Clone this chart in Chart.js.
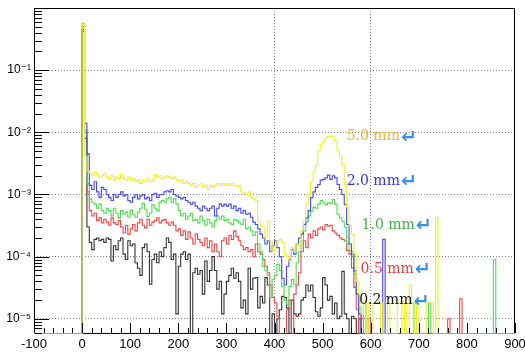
<!DOCTYPE html>
<html><head><meta charset="utf-8">
<script src="https://cdn.jsdelivr.net/npm/chart.js@4/dist/chart.umd.min.js"></script>
<style>html,body{margin:0;padding:0;background:#fff}canvas{display:block}</style>
</head><body>
<canvas id="c" width="525" height="354"></canvas>
<script>
// ---- data ----
const binStart = 0;      // first bin lower edge
const binWidth = 5;      // bin width
const xTickLabels = [-100, 0, 100, 200, 300, 400, 500, 600, 700, 800, 900];
const yTickValues = [1e-5, 1e-4, 1e-3, 1e-2, 1e-1];
const yTickLabels = ['10\u207B\u2075', '10\u207B\u2074', '10\u207B\u00B3', '10\u207B\u00B2', '10\u207B\u00B9'];
const seriesNames = ['5.0 mm', '2.0 mm', '1.0 mm', '0.5 mm', '0.2 mm'];

const yellow5mm = [
0.55, 4.0e-3, 2.4e-3, 2.2e-3, 2.0e-3, 2.3e-3, 2.1e-3, 1.9e-3, 2.0e-3, 2.2e-3,
1.9e-3, 1.8e-3, 2.0e-3, 1.7e-3, 1.9e-3, 1.8e-3, 2.1e-3, 1.8e-3, 1.7e-3, 1.9e-3,
1.7e-3, 1.8e-3, 1.6e-3, 1.7e-3, 1.5e-3, 1.7e-3, 1.6e-3, 1.8e-3, 1.6e-3, 1.7e-3,
2.1e-3, 1.9e-3, 2.0e-3, 1.8e-3, 1.9e-3, 2.0e-3, 1.9e-3, 1.8e-3, 1.9e-3, 1.7e-3,
1.6e-3, 1.7e-3, 1.5e-3, 1.6e-3, 1.5e-3, 1.4e-3, 1.5e-3, 1.3e-3, 1.4e-3, 1.5e-3,
1.3e-3, 1.4e-3, 1.2e-3, 1.4e-3, 1.3e-3, 1.4e-3, 1.5e-3, 1.4e-3, 1.5e-3, 1.4e-3,
1.5e-3, 1.4e-3, 1.5e-3, 1.4e-3, 1.35e-3, 1.4e-3, 1.1e-3, 1.05e-3, 1.0e-3, 1.1e-3,
9e-4, 8.5e-4, 8e-4, 3.7e-4, 3.2e-4, 3.0e-4, 2.0e-4, 3.7e-4, 1.8e-4, 1.2e-4,
1.5e-4, 1.8e-4, 1.9e-4, 1.7e-4, 1.1e-4, 1.0e-4, 8.5e-5, 1.4e-4, 1.2e-4, 1.6e-4,
1.5e-4, 2.6e-4, 3.7e-4, 7e-4, 1.0e-3, 1.6e-3, 2.3e-3, 2.9e-3, 5.0e-3, 6.3e-3,
7.0e-3, 8.1e-3, 8.6e-3, 8.7e-3, 8.4e-3, 7.2e-3, 5.0e-3, 4.2e-3, 3.0e-3, 1.45e-3,
6.2e-4, 3.2e-4, 2.3e-4, 1.1e-4, 4e-5, 2.5e-5, 1.2e-5, 1.8e-5, 0, 1.8e-5,
1.8e-5, 0, 0, 0, 1.8e-5, 0, 0, 1.8e-5, 0, 0,
0, 1.8e-5, 1.8e-5, 0, 1.8e-5, 0, 3.5e-5, 1.8e-5, 0, 1.8e-5,
0, 0, 0, 1.8e-5, 1.8e-5, 1.8e-5, 0, 4.2e-4, 0, 0,
0, 0, 0, 0, 0, 0, 0, 0, 0, 0,
0, 0, 0, 0, 0, 0, 0, 0, 0, 0,
0, 0, 0, 0, 0, 0, 0, 0, 0, 0
];
const blue2mm = [
0.42, 1.4e-2, 4.5e-3, 1.4e-3, 1.2e-3, 1.6e-3, 1.1e-3, 9e-4, 1.3e-3, 1.2e-3,
1.0e-3, 9e-4, 8e-4, 1.0e-3, 9e-4, 1.0e-3, 1.1e-3, 9.5e-4, 1.0e-3, 8e-4,
7.5e-4, 9e-4, 1.0e-3, 8.5e-4, 9.5e-4, 1.0e-3, 8.5e-4, 9e-4, 8e-4, 1.0e-3,
1.05e-3, 9e-4, 1.0e-3, 1.0e-3, 1.1e-3, 1.15e-3, 1.1e-3, 1.2e-3, 1.0e-3, 9.5e-4,
9e-4, 8.5e-4, 9e-4, 8e-4, 7.5e-4, 7e-4, 7.5e-4, 6.5e-4, 6e-4, 5.5e-4,
6.5e-4, 6e-4, 5.5e-4, 6e-4, 6.5e-4, 4.5e-4, 6e-4, 7e-4, 6.5e-4, 7e-4,
6.5e-4, 7e-4, 6e-4, 6.5e-4, 5.5e-4, 6e-4, 5e-4, 5.5e-4, 4.8e-4, 5e-4,
4.3e-4, 3.6e-4, 3.3e-4, 2.8e-4, 2.3e-4, 2.0e-4, 1.6e-4, 1.8e-4, 1.2e-4, 1.5e-4,
1.8e-4, 1.4e-4, 1.0e-4, 4.5e-5, 3.5e-5, 7e-5, 9e-5, 1.3e-4, 1.1e-4, 1.6e-4,
2.0e-4, 2.3e-4, 3.3e-4, 4.2e-4, 5.5e-4, 8.9e-4, 1.1e-3, 1.3e-3, 1.45e-3, 1.7e-3,
1.75e-3, 1.85e-3, 2.05e-3, 1.75e-3, 2.0e-3, 1.85e-3, 1.45e-3, 1.2e-3, 1.0e-3, 6.9e-4,
3.3e-4, 1.6e-4, 1.1e-4, 5.9e-5, 2.5e-5, 1.2e-5, 0, 0, 0, 0,
0, 0, 0, 0, 0, 1.9e-4, 0, 0, 0, 0,
0, 0, 0, 0, 0, 0, 0, 0, 0, 0,
0, 0, 0, 0, 0, 0, 0, 0, 0, 0,
0, 0, 0, 0, 0, 0, 0, 0, 0, 0,
0, 0, 0, 0, 0, 0, 0, 0, 0, 0,
0, 0, 0, 0, 0, 0, 0, 0, 0, 0
];
const green1mm = [
0.57, 1.1e-2, 1.5e-3, 8.5e-4, 7.5e-4, 7e-4, 6e-4, 7e-4, 5.5e-4, 5e-4,
6e-4, 5.5e-4, 4.5e-4, 6e-4, 5e-4, 4.2e-4, 5.5e-4, 4.8e-4, 5.2e-4, 4.3e-4,
5.6e-4, 4.8e-4, 4.3e-4, 5.2e-4, 6e-4, 7.2e-4, 5.8e-4, 4.4e-4, 5e-4, 6.8e-4,
6e-4, 5.5e-4, 7.5e-4, 8e-4, 7.5e-4, 8.5e-4, 9e-4, 7.5e-4, 8.5e-4, 7e-4,
5.5e-4, 4.5e-4, 5e-4, 4e-4, 4.5e-4, 5e-4, 3.8e-4, 4e-4, 3.5e-4, 4.5e-4,
3.8e-4, 3.2e-4, 4e-4, 3.5e-4, 3e-4, 3.8e-4, 4.5e-4, 4e-4, 4.5e-4, 3.8e-4,
4e-4, 3.5e-4, 3.3e-4, 4e-4, 3.8e-4, 3.5e-4, 3.3e-4, 4e-4, 2.8e-4, 3e-4,
2.6e-4, 2.2e-4, 2.5e-4, 1.6e-4, 1.2e-4, 7e-5, 6e-5, 5e-5, 2.2e-5, 4.3e-5,
5e-5, 7.5e-5, 6e-5, 3.3e-5, 2.0e-5, 1.7e-5, 3.3e-5, 4.3e-5, 3.5e-5, 8e-5,
1.2e-4, 1.8e-4, 2.6e-4, 3.7e-4, 4.5e-4, 5.4e-4, 6.2e-4, 6e-4, 7e-4, 8e-4,
7.5e-4, 6.8e-4, 7.5e-4, 7.2e-4, 8.3e-4, 7e-4, 4.8e-4, 4.2e-4, 3.7e-4, 3e-4,
1.6e-4, 1.26e-4, 1.2e-4, 5.2e-5, 2.5e-5, 1.5e-5, 0, 1.8e-5, 0, 0,
0, 0, 0, 0, 0, 0, 0, 0, 0, 0,
0, 0, 0, 0, 0, 0, 0, 0, 1.8e-5, 0,
0, 0, 0, 0, 1.8e-5, 0, 0, 0, 0, 0,
0, 0, 0, 0, 0, 0, 0, 0, 0, 0,
0, 0, 0, 0, 0, 0, 0, 0, 0, 0,
0, 8.9e-5, 0, 0, 0, 0, 0, 0, 0, 0
];
const red05mm = [
0.5, 1.0e-2, 1.1e-3, 5.5e-4, 4.5e-4, 5e-4, 3.8e-4, 4.2e-4, 3.5e-4, 4e-4,
3.6e-4, 3.2e-4, 4.2e-4, 3.5e-4, 3.3e-4, 3.8e-4, 3e-4, 2.4e-4, 3.2e-4, 2.3e-4,
2.8e-4, 3.3e-4, 2.6e-4, 3.5e-4, 4e-4, 3.2e-4, 2.9e-4, 4e-4, 3.2e-4, 3.6e-4,
3.8e-4, 4.2e-4, 3.5e-4, 3.8e-4, 4.0e-4, 3.5e-4, 3.2e-4, 3.6e-4, 3.2e-4, 2.6e-4,
2.8e-4, 2.2e-4, 2.6e-4, 1.9e-4, 2.5e-4, 2.0e-4, 1.6e-4, 2.3e-4, 1.9e-4, 1.7e-4,
1.5e-4, 2.0e-4, 1.4e-4, 1.8e-4, 1.2e-4, 1.6e-4, 1.2e-4, 1.0e-4, 1.8e-4, 2.0e-4,
1.6e-4, 2.2e-4, 1.9e-4, 2.6e-4, 2.1e-4, 1.8e-4, 1.5e-4, 1.3e-4, 1.4e-4, 1.2e-4,
1.3e-4, 1.0e-4, 1.6e-4, 1.2e-4, 1.1e-4, 9e-5, 7e-5, 5.5e-5, 3.5e-5, 2.2e-5,
1.8e-5, 1.1e-5, 0, 0, 0, 1.4e-5, 2e-5, 0, 2.5e-5, 3.5e-5,
5.5e-5, 1.2e-4, 1.8e-4, 1.4e-4, 2.3e-4, 2.0e-4, 2.6e-4, 2.2e-4, 2.8e-4, 3.0e-4,
2.7e-4, 3.3e-4, 3.1e-4, 3.2e-4, 2.6e-4, 2.4e-4, 2.2e-4, 2.0e-4, 1.9e-4, 1.8e-4,
1.26e-4, 1.1e-4, 6.6e-5, 3.2e-5, 1.4e-5, 0, 1.0e-5, 0, 0, 1.0e-5,
0, 0, 0, 0, 0, 0, 0, 0, 0, 0,
0, 0, 0, 0, 0, 0, 0, 0, 0, 0,
0, 0, 0, 0, 0, 0, 0, 0, 0, 0,
0, 0, 1.0e-5, 0, 0, 0, 0, 2.1e-5, 0, 0,
0, 0, 0, 0, 0, 0, 0, 0, 0, 0,
0, 0, 0, 0, 0, 0, 0, 0, 0, 0
];
const black02mm = [
0.45, 8e-3, 3e-4, 1.7e-4, 1.3e-4, 1.9e-4, 2.0e-4, 1.8e-4, 1.9e-4, 1.7e-4,
2.0e-4, 1.9e-4, 8.5e-5, 1.5e-4, 1.3e-4, 1.8e-4, 2.0e-4, 1.1e-4, 9e-5, 1.8e-4,
1.5e-4, 1.6e-4, 8e-5, 6.5e-5, 5e-5, 1.4e-4, 1.6e-4, 1.2e-4, 3.6e-5, 9e-5,
1.1e-4, 8e-5, 1.2e-4, 1.0e-4, 1.4e-4, 2.0e-4, 1.7e-4, 9e-5, 1.1e-4, 1.2e-5,
7e-5, 1.1e-4, 1.2e-4, 9e-5, 1.1e-4, 0, 5.5e-5, 6.5e-5, 5.2e-5, 6e-5,
2.5e-5, 8.5e-5, 4e-5, 6e-5, 1.0e-4, 6e-5, 3e-5, 4e-5, 1.2e-5, 2.5e-5,
4e-5, 5e-5, 6.5e-5, 4.5e-5, 5.5e-5, 4e-5, 1.5e-5, 2e-5, 1.2e-5, 6.5e-5,
3e-5, 4.5e-5, 4.6e-5, 1.5e-5, 2.3e-5, 1.8e-5, 4.6e-5, 3.5e-5, 0, 1.2e-5,
0, 1.0e-5, 1.4e-5, 2.3e-5, 2.2e-5, 1.5e-5, 0, 2.0e-5, 1.2e-5, 1.1e-5,
1.2e-5, 2.0e-5, 2.2e-5, 3.5e-5, 2.8e-5, 3.5e-5, 2.2e-5, 1.3e-5, 1.1e-5, 1.5e-5,
4.6e-5, 3.5e-5, 2.0e-5, 2.3e-5, 1.2e-5, 1.8e-5, 1.0e-5, 1.1e-5, 5.8e-5, 1.2e-5,
1.0e-5, 0, 1.1e-5, 1.0e-5, 0, 1.0e-5, 0, 0, 0, 0,
0, 0, 0, 0, 0, 0, 0, 0, 0, 0,
0, 0, 0, 0, 0, 0, 0, 0, 0, 0,
0, 0, 0, 0, 0, 0, 0, 0, 0, 0,
0, 0, 0, 0, 0, 0, 0, 0, 0, 0,
0, 0, 0, 0, 0, 0, 0, 0, 0, 0,
0, 0, 0, 0, 0, 0, 0, 0, 0, 0
];

// label anchors (data coordinates) for the in-plot annotations
const labelAnchorX = [550, 550, 581, 579, 576];
const labelAnchorY = [8.5e-3, 1.62e-3, 3.2e-4, 6.3e-5, 1.95e-5];

// ---- styling ----
const X_MIN = -100, X_MAX = 900;
const Y_MIN = 5.7e-6, Y_MAX = 1;
const lineColors = ['#f0f028', '#4646ff', '#4fdc4f', '#f04646', '#333333'];
const labelColors = ['#f4b21c', '#3434e6', '#3fae49', '#e83c3a', '#111111'];
const arrowColor = '#3d90e6';
const seriesValues = [yellow5mm, blue2mm, green1mm, red05mm, black02mm];

function histPoints(vals) {
  const pts = [{x: X_MIN, y: Y_MIN}];
  vals.forEach((v, i) => pts.push({x: binStart + i * binWidth, y: v > 0 ? v : Y_MIN}));
  const last = vals[vals.length - 1];
  pts.push({x: binStart + vals.length * binWidth, y: last > 0 ? last : Y_MIN});
  return pts;
}

const rootFrame = {
  id: 'rootFrame',
  beforeDatasetsDraw(chart) {
    const {ctx, chartArea: a} = chart;
    ctx.save();
    ctx.strokeStyle = '#000'; ctx.lineWidth = 1;
    ctx.strokeRect(a.left + 0.5, a.top + 0.5, a.right - a.left - 1, a.bottom - a.top - 1);
    ctx.restore();
  },
  afterDatasetsDraw(chart) {
    const {ctx, chartArea: a, scales: {x, y}} = chart;
    ctx.save();
    ctx.strokeStyle = '#000'; ctx.lineWidth = 1;
    ctx.beginPath();
    for (let v = X_MIN; v <= X_MAX; v += 20) {
      const px = Math.round(x.getPixelForValue(v)) + 0.5;
      const len = (v % 100 === 0) ? 10 : 5;
      ctx.moveTo(px, a.bottom - 1); ctx.lineTo(px, a.bottom - 1 - len);
    }
    for (let e = -6; e <= 0; e++) {
      for (let k = 1; k <= 9; k++) {
        const v = k * Math.pow(10, e);
        if (v < Y_MIN || v > Y_MAX * 0.999) continue;
        const py = Math.round(y.getPixelForValue(v)) + 0.5;
        const len = k === 1 ? 14 : 7;
        ctx.moveTo(a.left + 1, py); ctx.lineTo(a.left + 1 + len, py);
      }
    }
    ctx.stroke();
    // annotations
    ctx.textBaseline = 'middle';
    ctx.textAlign = 'left';
    seriesNames.forEach((name, i) => {
      const px = x.getPixelForValue(labelAnchorX[i]);
      const py = y.getPixelForValue(labelAnchorY[i]);
      ctx.font = '14px "DejaVu Serif", "Liberation Serif", serif';
      ctx.fillStyle = labelColors[i];
      ctx.fillText(name, px, py);
      const w = ctx.measureText(name).width;
      ctx.font = 'bold 19px "DejaVu Sans", sans-serif';
      ctx.fillStyle = arrowColor;
      ctx.fillText('\u21B5', px + w + 1, py + 1);
    });
    ctx.restore();
  }
};

const datasets = seriesValues.map((vals, i) => ({
  label: seriesNames[i],
  data: histPoints(vals),
  borderColor: lineColors[i],
  borderWidth: 1.1,
  pointRadius: 0,
  fill: false,
  stepped: true,
  tension: 0
}));

new Chart(document.getElementById('c'), {
  type: 'line',
  data: {datasets},
  options: {
    responsive: false,
    animation: false,
    events: [],
    layout: {padding: {left: 0, right: 10, top: 8, bottom: 0}},
    plugins: {legend: {display: false}, tooltip: {enabled: false}, title: {display: false}},
    scales: {
      x: {
        type: 'linear', min: X_MIN, max: X_MAX,
        afterBuildTicks: s => { s.ticks = xTickLabels.map(v => ({value: v})); },
        ticks: {
          autoSkip: false, maxRotation: 0, minRotation: 0, padding: 3,
          color: '#000', font: {family: '"Liberation Sans", Arial, sans-serif', size: 13},
          callback: v => String(v)
        },
        grid: {
          drawTicks: false,
          color: c => (c.tick && (c.tick.value === 400 || c.tick.value === 600)) ? '#808080' : 'rgba(0,0,0,0)',
          lineWidth: 1
        },
        border: {display: false, dash: [1, 2]},
        afterFit: s => { s.height = 20; s.paddingLeft = 0; s.paddingRight = 0; }
      },
      y: {
        type: 'logarithmic', min: Y_MIN, max: Y_MAX,
        afterBuildTicks: s => { s.ticks = yTickValues.map(v => ({value: v})); },
        ticks: {
          padding: 3, color: '#000',
          font: {family: '"Liberation Sans", "DejaVu Sans", Arial, sans-serif', size: 12},
          callback: v => { const i = yTickValues.findIndex(t => Math.abs(t - v) / t < 1e-6); return i >= 0 ? yTickLabels[i] : ''; }
        },
        grid: {drawTicks: false, color: '#808080', lineWidth: 1},
        border: {display: false, dash: [1, 2]},
        afterFit: s => { s.width = 34; s.paddingTop = 0; s.paddingBottom = 0; }
      }
    }
  },
  plugins: [rootFrame]
});
</script>
</body></html>
